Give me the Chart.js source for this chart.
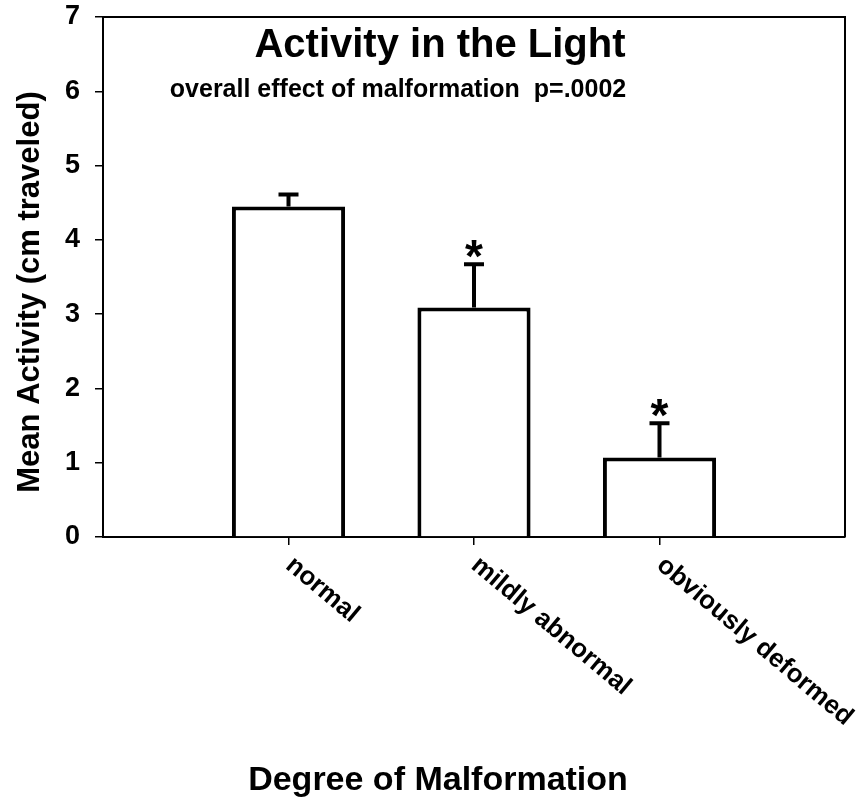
<!DOCTYPE html>
<html>
<head>
<meta charset="utf-8">
<title>Activity in the Light</title>
<script src="https://cdn.jsdelivr.net/npm/chart.js@4.4.1/dist/chart.umd.min.js"></script>
<style>
  html, body { margin: 0; padding: 0; background: #fff; }
  #wrap { width: 867px; height: 802px; }
</style>
</head>
<body>
<div id="wrap"><canvas id="chart"></canvas></div>
<script>
// data (empty slots pad the axis on both sides)
const categories = ['', 'normal', 'mildly abnormal', 'obviously deformed', ''];
const meanActivity = [null, 4.45, 3.09, 1.07, null];
const stdError = [null, 0.16, 0.58, 0.46, null];
const significance = ['', '', '*', '*', ''];
const yTicks = [0, 1, 2, 3, 4, 5, 6, 7];

const FONT = "'Liberation Sans', Arial, Helvetica, sans-serif";

// frame, error bars, asterisks and all the free text
const extras = {
    id: 'extras',
    afterDatasetsDraw(chart) {
        const { ctx, chartArea: a, scales: { x, y } } = chart;
        ctx.save();
        ctx.strokeStyle = '#000';
        ctx.fillStyle = '#000';

        // top and right border of the plot box
        ctx.lineWidth = 2;
        ctx.beginPath();
        ctx.moveTo(a.left, a.top);
        ctx.lineTo(a.right, a.top);
        ctx.lineTo(a.right, a.bottom);
        ctx.stroke();

        // error bars (upper half only) + significance marks
        meanActivity.forEach((v, i) => {
            if (v == null) return;
            const px = x.getPixelForValue(i);
            const base = y.getPixelForValue(v);
            const top = y.getPixelForValue(v + stdError[i]);
            ctx.lineWidth = 4;
            ctx.beginPath();
            ctx.moveTo(px, base);
            ctx.lineTo(px, top);
            ctx.moveTo(px - 10, top);
            ctx.lineTo(px + 10, top);
            ctx.stroke();
            if (significance[i]) {
                ctx.font = `bold 46px ${FONT}`;
                ctx.textAlign = 'center';
                ctx.textBaseline = 'alphabetic';
                ctx.fillText(significance[i], px, top + 8);
            }
        });

        // rotated category labels
        ctx.font = `bold 26px ${FONT}`;
        ctx.textAlign = 'left';
        ctx.textBaseline = 'top';
        categories.forEach((c, i) => {
            if (!c) return;
            const px = x.getPixelForValue(i);
            ctx.save();
            ctx.translate(px + 9, a.bottom + 15);
            ctx.rotate(40 * Math.PI / 180);
            ctx.fillText(c, 0, 0);
            ctx.restore();
        });

        // titles
        ctx.textAlign = 'center';
        ctx.textBaseline = 'alphabetic';
        ctx.font = `bold 40px ${FONT}`;
        ctx.fillText('Activity in the Light', 440, 57);
        ctx.font = `bold 25px ${FONT}`;
        ctx.fillText('overall effect of malformation  p=.0002', 398, 97);

        ctx.font = `bold 34px ${FONT}`;
        ctx.fillText('Degree of Malformation', 438, 790);

        ctx.save();
        ctx.translate(39, 292);
        ctx.rotate(-Math.PI / 2);
        ctx.font = `bold 31px ${FONT}`;
        ctx.fillText('Mean Activity (cm traveled)', 0, 0);
        ctx.restore();

        ctx.restore();
    }
};

new Chart(document.getElementById('chart'), {
    type: 'bar',
    data: {
        labels: categories,
        datasets: [{
            data: meanActivity,
            backgroundColor: '#fff',
            borderColor: '#000',
            borderWidth: 4,
            categoryPercentage: 1,
            barPercentage: 0.61
        }]
    },
    options: {
        responsive: true,
        maintainAspectRatio: false,
        animation: false,
        layout: { padding: { top: 17, right: 22, left: 0, bottom: 0 } },
        plugins: {
            legend: { display: false },
            tooltip: { enabled: false }
        },
        scales: {
            x: {
                type: 'category',
                offset: false,
                grid: {
                    offset: false,
                    drawOnChartArea: false,
                    tickLength: 8,
                    lineWidth: 1.5,
                    tickColor: c => categories[c.index] ? '#000' : 'rgba(0,0,0,0)'
                },
                border: { display: true, color: '#000', width: 2 },
                ticks: { display: false },
                afterFit: s => { s.height = 265; s.paddingLeft = 0; s.paddingRight = 0; }
            },
            y: {
                min: 0,
                max: 7,
                afterBuildTicks: s => { s.ticks = yTicks.map(v => ({ value: v })); },
                grid: {
                    drawOnChartArea: false,
                    tickLength: 8,
                    lineWidth: 1.5,
                    tickColor: '#000'
                },
                border: { display: true, color: '#000', width: 2 },
                ticks: {
                    color: '#000',
                    padding: 15,
                    font: { family: FONT, size: 27, weight: 'bold' }
                },
                afterFit: s => { s.width = 103; s.paddingTop = 0; s.paddingBottom = 0; }
            }
        }
    },
    plugins: [extras]
});
</script>
</body>
</html>
